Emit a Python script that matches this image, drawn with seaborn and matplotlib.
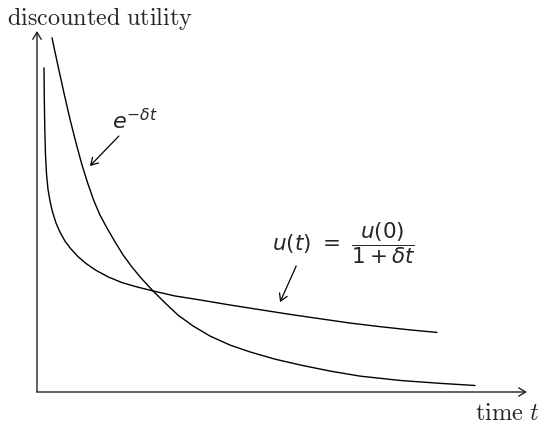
'''
Discounted utility over time: exponential vs hyperbolic discounting.
Curve points were read off the reference sketch.
'''

import pandas as pd
import seaborn as sns
import matplotlib.pyplot as plt

sns.set_style('white')

# exponential discounting e^{-delta t}
exp_t = [0.306, 0.429, 0.551, 0.673, 0.796, 0.918, 1.041, 1.163, 1.286,
         1.429, 1.592, 1.755, 1.939, 2.122, 2.367, 2.612, 2.878, 3.184,
         3.531, 3.939, 4.347, 4.857, 5.367, 5.980, 6.592, 7.408, 8.224,
         8.939]
exp_u = [0.981, 0.903, 0.828, 0.756, 0.690, 0.629, 0.576, 0.529, 0.490,
         0.454, 0.416, 0.380, 0.346, 0.316, 0.280, 0.247, 0.213, 0.183,
         0.155, 0.130, 0.111, 0.091, 0.075, 0.058, 0.044, 0.032, 0.024,
         0.018]

# hyperbolic discounting u(0) / (1 + delta t)
hyp_t = [0.143, 0.149, 0.159, 0.173, 0.194, 0.224, 0.265, 0.316, 0.388,
         0.469, 0.571, 0.694, 0.837, 1.000, 1.204, 1.449, 1.735, 2.041,
         2.367, 2.816, 3.327, 3.939, 4.551, 5.163, 5.776, 6.388, 7.000,
         7.612, 8.163]
hyp_u = [0.898, 0.812, 0.729, 0.659, 0.604, 0.562, 0.529, 0.499, 0.468,
         0.443, 0.418, 0.396, 0.375, 0.356, 0.337, 0.319, 0.303, 0.291,
         0.280, 0.266, 0.255, 0.241, 0.228, 0.215, 0.203, 0.191, 0.181,
         0.172, 0.165]

X_MAX = 10
Y_MAX = 1
W, H = 544, 427


def place_text(fig, s, x0, x1, yc, family):
    '''Put a label centred on (x0+x1)/2, yc (pixels from top left) and
    scale its font so it spans x0..x1.'''
    txt = fig.text((x0 + x1) / 2 / W, 1 - yc / H, s, math_fontfamily=family,
                   fontsize=13, ha='center', va='center')
    for _ in range(2):
        fig.canvas.draw()
        bb = txt.get_window_extent()
        txt.set_fontsize(txt.get_fontsize() * (x1 - x0) / bb.width)
    return txt


def make_graph():
    fig = plt.figure(figsize=(W / 100, H / 100), dpi=100)
    ax = fig.add_axes([37 / W, 34 / H, 490 / W, 361 / H])

    exp_df = pd.DataFrame({'t': exp_t, 'u': exp_u})
    hyp_df = pd.DataFrame({'t': hyp_t, 'u': hyp_u})
    sns.lineplot(x='t', y='u', data=exp_df, sort=False, estimator=None,
                 color='black', lw=1.0, ax=ax)
    sns.lineplot(x='t', y='u', data=hyp_df, sort=False, estimator=None,
                 color='black', lw=1.0, ax=ax)

    ax.set_xlim(0, X_MAX)
    ax.set_ylim(0, Y_MAX)
    ax.set_xticks([])
    ax.set_yticks([])
    ax.set_xlabel('')
    ax.set_ylabel('')
    for sp in ax.spines.values():
        sp.set_visible(False)

    # axes with open arrow heads
    axis_arrow = dict(arrowstyle='->,head_length=0.5,head_width=0.3',
                      color='#222222', lw=1.0, shrinkA=0, shrinkB=0)
    ax.annotate('', xy=(X_MAX, 0), xytext=(0, 0), arrowprops=axis_arrow,
                annotation_clip=False)
    ax.annotate('', xy=(0, Y_MAX), xytext=(0, 0), arrowprops=axis_arrow,
                annotation_clip=False)

    label_arrow = dict(arrowstyle='->,head_length=0.5,head_width=0.3',
                       color='black', lw=0.9, shrinkA=0, shrinkB=0)
    ax.annotate('', xy=(1.08, 0.626), xytext=(1.67, 0.709),
                arrowprops=label_arrow)
    ax.annotate('', xy=(4.96, 0.249), xytext=(5.29, 0.349),
                arrowprops=label_arrow)

    place_text(fig, r'$\mathrm{discounted\ utility}$', 7, 193, 18, 'cm')
    place_text(fig, r'$\mathrm{time}\ t$', 475, 540, 413, 'cm')
    place_text(fig, r'$e^{-\delta t}$', 112, 158, 121, 'dejavusans')
    place_text(fig, r'$u(t)\ =\ \dfrac{u(0)}{1 + \delta t}$', 272, 415, 243,
               'dejavusans')

    fig.savefig('out.png', dpi=100)
    plt.close()


if __name__ == "__main__":
    make_graph()
